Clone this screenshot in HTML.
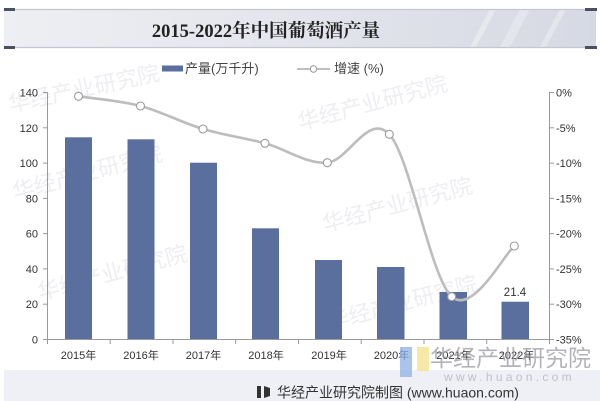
<!DOCTYPE html>
<html><head><meta charset="utf-8">
<style>
html,body{margin:0;padding:0;background:#fff;}
body{width:600px;height:401px;overflow:hidden;position:relative;font-family:"Liberation Sans","Noto Sans CJK SC",sans-serif;}
svg{position:absolute;left:0;top:0;}
</style></head>
<body>
<svg width="600" height="401" viewBox="0 0 600 401" xmlns="http://www.w3.org/2000/svg">
  <defs>
    <linearGradient id="bg" x1="0" x2="1" y1="0" y2="0">
      <stop offset="0" stop-color="#eeeff3"/>
      <stop offset="0.5" stop-color="#e3e5ec"/>
      <stop offset="1" stop-color="#d6d9e3"/>
    </linearGradient>
  </defs>
  <!-- banner -->
  <rect x="4" y="9" width="592" height="38" fill="url(#bg)"/>
  <polygon points="470,47 490,9 496,9 476,47" fill="#ffffff" opacity="0.35"/>
  <polygon points="500,47 520,9 530,9 510,47" fill="#ffffff" opacity="0.3"/>
  <polygon points="540,47 560,9 566,9 546,47" fill="#ffffff" opacity="0.3"/>
  <line x1="4" y1="9.5" x2="596" y2="9.5" stroke="#c4c7d0" stroke-width="1.2"/>
  <line x1="4" y1="47.5" x2="596" y2="47.5" stroke="#c4c7d0" stroke-width="1.2"/>
  <rect x="4" y="8" width="11" height="3" fill="#4a5060"/>
  <rect x="4" y="46" width="11" height="3" fill="#4a5060"/>
  <rect x="585" y="8" width="12" height="3" fill="#4a5060"/>
  <rect x="585" y="46" width="12" height="3" fill="#4a5060"/>
  <text x="266" y="37" text-anchor="middle" font-family="'Liberation Serif','Noto Serif CJK SC',serif" font-weight="bold" font-size="18.5" fill="#222">2015-2022年中国葡萄酒产量</text>

  <!-- faint watermarks -->
  <g font-family="'Liberation Sans','Noto Sans CJK SC',sans-serif" font-size="22" fill="#e9eaee" opacity="0.8">
    <text x="10" y="112" transform="rotate(-12 10 112)">华经产业研究院</text>
    <text x="15" y="200" transform="rotate(-15 15 200)">华经产业研究院</text>
    <text x="300" y="130" transform="rotate(-15 300 130)">华经产业研究院</text>
    <text x="325" y="232" transform="rotate(-15 325 232)">华经产业研究院</text>
    <text x="40" y="300" transform="rotate(-15 40 300)">华经产业研究院</text>
    <text x="330" y="330" transform="rotate(-15 330 330)">华经产业研究院</text>
  </g>

  <!-- legend -->
  <rect x="162" y="65.5" width="21" height="6" fill="#5a6f9e"/>
  <text x="185" y="73" font-size="13" fill="#444">产量(万千升)</text>
  <line x1="297" y1="69" x2="330" y2="69" stroke="#aaa" stroke-width="1.5"/>
  <circle cx="313.5" cy="69" r="3.2" fill="#fff" stroke="#999" stroke-width="1"/>
  <text x="334" y="73" font-size="13" fill="#444">增速 (%)</text>

  <!-- bars -->
  <g fill="#5a6f9e">
    <rect x="65" y="137.3" width="27" height="202"/>
    <rect x="127.5" y="139.3" width="27" height="200"/>
    <rect x="190" y="162.7" width="27" height="176.6"/>
    <rect x="252" y="228.3" width="27" height="111"/>
    <rect x="315" y="260" width="27" height="79.3"/>
    <rect x="377" y="267" width="27.5" height="72.3"/>
    <rect x="439.5" y="292" width="27.5" height="47.3"/>
    <rect x="501.5" y="301.7" width="27.5" height="37.6"/>
  </g>

  <!-- axes -->
  <g stroke="#9a9a9a" stroke-width="1" fill="none">
    <line x1="47.5" y1="92" x2="47.5" y2="339.5"/>
    <line x1="549.5" y1="92" x2="549.5" y2="339.5"/>
    <line x1="47" y1="339.5" x2="550" y2="339.5"/>
    <!-- left ticks -->
    <line x1="43" y1="92.5" x2="47.5" y2="92.5"/>
    <line x1="43" y1="127.8" x2="47.5" y2="127.8"/>
    <line x1="43" y1="163.1" x2="47.5" y2="163.1"/>
    <line x1="43" y1="198.4" x2="47.5" y2="198.4"/>
    <line x1="43" y1="233.6" x2="47.5" y2="233.6"/>
    <line x1="43" y1="268.9" x2="47.5" y2="268.9"/>
    <line x1="43" y1="304.2" x2="47.5" y2="304.2"/>
    <line x1="43" y1="339.5" x2="47.5" y2="339.5"/>
    <!-- right ticks -->
    <line x1="549.5" y1="92.5" x2="554" y2="92.5"/>
    <line x1="549.5" y1="127.8" x2="554" y2="127.8"/>
    <line x1="549.5" y1="163.1" x2="554" y2="163.1"/>
    <line x1="549.5" y1="198.4" x2="554" y2="198.4"/>
    <line x1="549.5" y1="233.6" x2="554" y2="233.6"/>
    <line x1="549.5" y1="268.9" x2="554" y2="268.9"/>
    <line x1="549.5" y1="304.2" x2="554" y2="304.2"/>
    <line x1="549.5" y1="339.5" x2="554" y2="339.5"/>
    <!-- x ticks -->
    <line x1="47.5" y1="339.5" x2="47.5" y2="344"/>
    <line x1="110.2" y1="339.5" x2="110.2" y2="344"/>
    <line x1="173" y1="339.5" x2="173" y2="344"/>
    <line x1="235.7" y1="339.5" x2="235.7" y2="344"/>
    <line x1="298.5" y1="339.5" x2="298.5" y2="344"/>
    <line x1="361.2" y1="339.5" x2="361.2" y2="344"/>
    <line x1="424" y1="339.5" x2="424" y2="344"/>
    <line x1="486.7" y1="339.5" x2="486.7" y2="344"/>
    <line x1="549.5" y1="339.5" x2="549.5" y2="344"/>
  </g>

  <!-- left labels -->
  <g font-size="11" fill="#333" text-anchor="end">
    <text x="38" y="96.5">140</text>
    <text x="38" y="131.8">120</text>
    <text x="38" y="167.1">100</text>
    <text x="38" y="202.4">80</text>
    <text x="38" y="237.6">60</text>
    <text x="38" y="272.9">40</text>
    <text x="38" y="308.2">20</text>
    <text x="38" y="343.5">0</text>
  </g>
  <!-- right labels -->
  <g font-size="11" fill="#333" text-anchor="start">
    <text x="556" y="96.5">0%</text>
    <text x="556" y="131.8">-5%</text>
    <text x="556" y="167.1">-10%</text>
    <text x="556" y="202.4">-15%</text>
    <text x="556" y="237.6">-20%</text>
    <text x="556" y="272.9">-25%</text>
    <text x="556" y="308.2">-30%</text>
    <text x="556" y="343.5">-35%</text>
  </g>
  <!-- x labels -->
  <g font-size="11" fill="#333" text-anchor="middle">
    <text x="78.5" y="359">2015年</text>
    <text x="141" y="359">2016年</text>
    <text x="203.5" y="359">2017年</text>
    <text x="266" y="359">2018年</text>
    <text x="329" y="359">2019年</text>
    <text x="391.5" y="359">2020年</text>
    <text x="454" y="359">2021年</text>
    <text x="516.5" y="359">2022年</text>
  </g>

  <!-- data label -->
  <text x="515" y="296" font-size="11.5" fill="#333" text-anchor="middle">21.4</text>

  <!-- line series -->
  <path d="M78.5,96.3 C88.8,97.9 119.75,100.55 140.5,106 C161.25,111.45 182.25,122.78 203,129 C223.75,135.22 244.28,137.68 265,143.3 C285.72,148.92 306.58,164.2 327.3,162.7 C348.02,161.2 368.57,111.97 389.3,134.3 C410.03,156.63 430.87,278.08 451.7,296.7 C472.53,315.32 503.87,254.45 514.3,246" fill="none" stroke="#bdbdbd" stroke-width="2.6" stroke-linecap="round"/>
  <g fill="#fff" stroke="#9a9a9a" stroke-width="1.1">
    <circle cx="78.5" cy="96.3" r="4"/>
    <circle cx="140.5" cy="106" r="4"/>
    <circle cx="203" cy="129" r="4"/>
    <circle cx="265" cy="143.3" r="4"/>
    <circle cx="327.3" cy="162.7" r="4"/>
    <circle cx="389.3" cy="134.3" r="4"/>
    <circle cx="451.7" cy="296.7" r="4"/>
    <circle cx="514.3" cy="246" r="4"/>
  </g>

  <!-- footer band -->
  <rect x="4" y="370" width="596" height="31" fill="#eef0f5"/>

  <!-- bottom-right watermark logo -->
  <rect x="400" y="347" width="12" height="30" fill="#8fb0e6" opacity="0.75"/>
  <rect x="417" y="347" width="12" height="24" fill="#f6e08a" opacity="0.75"/>
  <text x="430" y="366" font-size="23" fill="#9a9ca3" opacity="0.75" font-family="'Liberation Sans','Noto Sans CJK SC',sans-serif">华经产业研究院</text>
  <text x="444" y="381" font-size="12" fill="#b3b5bb" opacity="0.8" letter-spacing="3.3">www.huaon.com</text>

  <!-- footer -->
  <rect x="257" y="386" width="4" height="12" fill="#333"/>
  <path d="M264,386 L270,388 L270,396 L264,398 Z" fill="#333"/>
  <text x="277" y="397.5" font-size="14" fill="#333">华经产业研究院制图 (www.huaon.com)</text>
</svg>
</body></html>
